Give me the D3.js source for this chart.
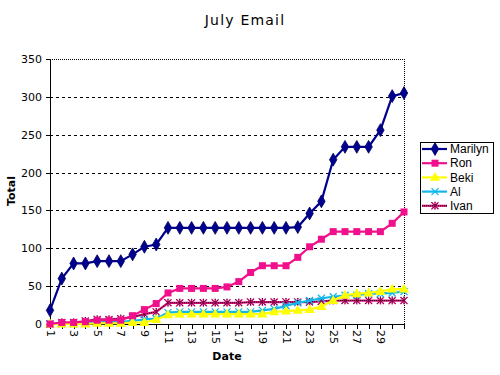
<!DOCTYPE html>
<html>
<head>
<meta charset="utf-8">
<script src="https://cdn.jsdelivr.net/npm/d3@7"></script>
<style>
  body { margin: 0; background: #fff; }
  svg text { font-family: "DejaVu Sans", Verdana, sans-serif; }
  .axis path, .axis line { stroke: #000; shape-rendering: crispEdges; }
  .axis text { font-size: 11px; fill: #000; }
  .grid line { stroke: #000; stroke-dasharray: 3,3; shape-rendering: crispEdges; }
</style>
</head>
<body>
<div id="chart"></div>
<script>
let days = [1, 2, 3, 4, 5, 6, 7, 8, 9, 10, 11, 12, 13, 14, 15, 16, 17, 18, 19, 20,
  21, 22, 23, 24, 25, 26, 27, 28, 29, 30, 31];
let yTicks = [0, 50, 100, 150, 200, 250, 300, 350];

let names = ["Marilyn", "Ron", "Beki", "Al", "Ivan"];
let marilyn = [18, 60, 80, 80, 83, 83, 83, 92, 102, 105, 127, 127, 127, 127, 127, 127,
  127, 127, 127, 127, 127, 128, 146, 162, 217, 234, 234, 234, 256, 301, 305];
let ron = [0, 2, 2, 3, 5, 5, 5, 11, 19, 27, 41, 47, 47, 47, 47, 49, 56, 68, 77, 77, 77,
  88, 102, 112, 122, 122, 122, 122, 122, 133, 148];
let beki = [0, 0, 0, 0, 1, 1, 1, 2, 2, 6, 12, 13, 13, 13, 13, 13, 13, 13, 13, 16, 17,
  18, 19, 23, 31, 38, 40, 41, 43, 46, 46];
let al = [0, 0, 0, 2, 3, 3, 3, 4, 6, 7, 15, 16, 16, 16, 16, 16, 16, 16, 18, 20, 24, 28,
  31, 34, 36, 38, 38, 40, 40, 41, 43];
let ivan = [0, 2, 2, 4, 6, 6, 7, 9, 13, 16, 28, 28, 28, 28, 28, 28, 28, 29, 29, 29, 29,
  29, 29, 30, 31, 31, 31, 31, 31, 31, 31];

let colors = ["#000090", "#f0108c", "#ffff00", "#10b8ec", "#e0107e"];
let markers = ["diamond", "square", "triangle", "cross", "star"];
let values = [marilyn, ron, beki, al, ivan];

let series = names.map((n, i) => ({
  name: n,
  color: colors[i],
  marker: markers[i],
  values: values[i].map((v, j) => ({ day: days[j], v: v })),
}));

let margin = { top: 59, left: 50 },
  width = 354,
  height = 265;

let svg = d3.select("#chart").append("svg").attr("width", 500).attr("height", 375);

let canvas = svg.append("g")
  .attr("transform", "translate(" + margin.left + "," + margin.top + ")");

let xScale = d3.scalePoint().domain(days).range([0, width]);
let yScale = d3.scaleLinear().domain([0, 350]).range([height, 0]);

// gridlines
canvas.append("g")
  .attr("class", "grid")
  .call(d3.axisLeft(yScale).tickValues(yTicks.slice(1, -1)).tickSize(-width).tickFormat(""))
  .call((g) => g.select(".domain").remove());

// dotted top and right border
canvas.append("path")
  .attr("d", "M0,0.5H" + (width + 0.5) + "V" + height)
  .attr("fill", "none")
  .attr("stroke", "#000")
  .attr("stroke-dasharray", "1,1")
  .style("shape-rendering", "crispEdges");

let yAxisEl = canvas.append("g")
  .attr("class", "axis")
  .call(d3.axisLeft(yScale).tickValues(yTicks).tickSize(4).tickSizeOuter(0).tickPadding(4));

let xAxisEl = canvas.append("g")
  .attr("class", "axis")
  .attr("transform", "translate(0," + height + ")")
  .call(d3.axisBottom(xScale).tickSize(5).tickSizeOuter(0)
    .tickFormat((d) => (d % 2 === 1 && d < 31 ? d : "")));

xAxisEl.selectAll("text")
  .attr("transform", "rotate(90)")
  .style("text-anchor", "start")
  .attr("x", 6)
  .attr("y", 0)
  .attr("dy", ".35em");

let line = d3.line()
  .x((d) => xScale(d.day))
  .y((d) => yScale(d.v));

function drawMarker(g, type, color, x, y) {
  if (type === "diamond") {
    g.append("path").attr("d", d3.symbol(d3.symbolDiamond, 48)())
      .attr("transform", "translate(" + x + "," + y + ")")
      .attr("fill", color).attr("stroke", "#000060").attr("stroke-width", 0.8);
  } else if (type === "square") {
    g.append("rect").attr("x", x - 3.5).attr("y", y - 3.5)
      .attr("width", 7).attr("height", 7).attr("fill", color);
  } else if (type === "triangle") {
    g.append("path").attr("d", d3.symbol(d3.symbolTriangle, 45)())
      .attr("transform", "translate(" + x + "," + (y + 0.5) + ")")
      .attr("fill", color);
  } else if (type === "cross") {
    g.append("path").attr("d", "M-3.5,-3.5L3.5,3.5M-3.5,3.5L3.5,-3.5")
      .attr("transform", "translate(" + x + "," + y + ")")
      .attr("stroke", color).attr("stroke-width", 1.3);
  } else {
    g.append("path").attr("d", "M-3.5,-3.5L3.5,3.5M-3.5,3.5L3.5,-3.5M0,-4V4")
      .attr("transform", "translate(" + x + "," + y + ")")
      .attr("stroke", color).attr("stroke-width", 1.3);
    g.append("path").attr("d", "M-3.5,-3.5L3.5,3.5M-3.5,3.5L3.5,-3.5M0,-4V4")
      .attr("transform", "translate(" + x + "," + y + ")")
      .attr("stroke", "#000").attr("stroke-width", 0.8).attr("stroke-dasharray", "1,1");
  }
}

// draw back to front so Marilyn sits on top
series.slice().reverse().forEach((s) => {
  let g = canvas.append("g");
  g.append("path")
    .datum(s.values)
    .attr("d", line)
    .attr("fill", "none")
    .attr("stroke", s.color)
    .attr("stroke-width", 2.2);
  if (s.name === "Ivan") {
    g.append("path")
      .datum(s.values)
      .attr("d", line)
      .attr("fill", "none")
      .attr("stroke", "#000")
      .attr("stroke-width", 1)
      .attr("stroke-dasharray", "1,1");
  }
  s.values.forEach((d) => drawMarker(g, s.marker, s.color, xScale(d.day), yScale(d.v)));
});

// titles
svg.append("text")
  .attr("x", 245).attr("y", 25)
  .attr("text-anchor", "middle")
  .style("font-size", "14px")
  .style("letter-spacing", "1.2px")
  .text("July Email");

svg.append("text")
  .attr("transform", "translate(15,191) rotate(-90)")
  .attr("text-anchor", "middle")
  .style("font-size", "11px")
  .style("font-weight", "bold")
  .text("Total");

svg.append("text")
  .attr("x", 227).attr("y", 360)
  .attr("text-anchor", "middle")
  .style("font-size", "11px")
  .style("font-weight", "bold")
  .text("Date");

// legend
let legend = svg.append("g").attr("transform", "translate(420,142)");
legend.append("rect")
  .attr("x", 0.5).attr("y", 0.5)
  .attr("width", 73).attr("height", 71)
  .attr("fill", "#fff").attr("stroke", "#000");

series.forEach((s, i) => {
  let y = 7 + i * 14.2;
  let g = legend.append("g");
  g.append("line")
    .attr("x1", 2).attr("x2", 27).attr("y1", y).attr("y2", y)
    .attr("stroke", s.color).attr("stroke-width", 2.2);
  if (s.name === "Ivan") {
    g.append("line")
      .attr("x1", 2).attr("x2", 27).attr("y1", y).attr("y2", y)
      .attr("stroke", "#000").attr("stroke-width", 1).attr("stroke-dasharray", "1,1");
  }
  drawMarker(g, s.marker, s.color, 15, y);
  g.append("text")
    .attr("x", 30).attr("y", y).attr("dy", ".35em")
    .style("font-family", "'Liberation Sans', Arial, sans-serif")
    .style("font-size", "12px")
    .text(s.name);
});
</script>
</body>
</html>
